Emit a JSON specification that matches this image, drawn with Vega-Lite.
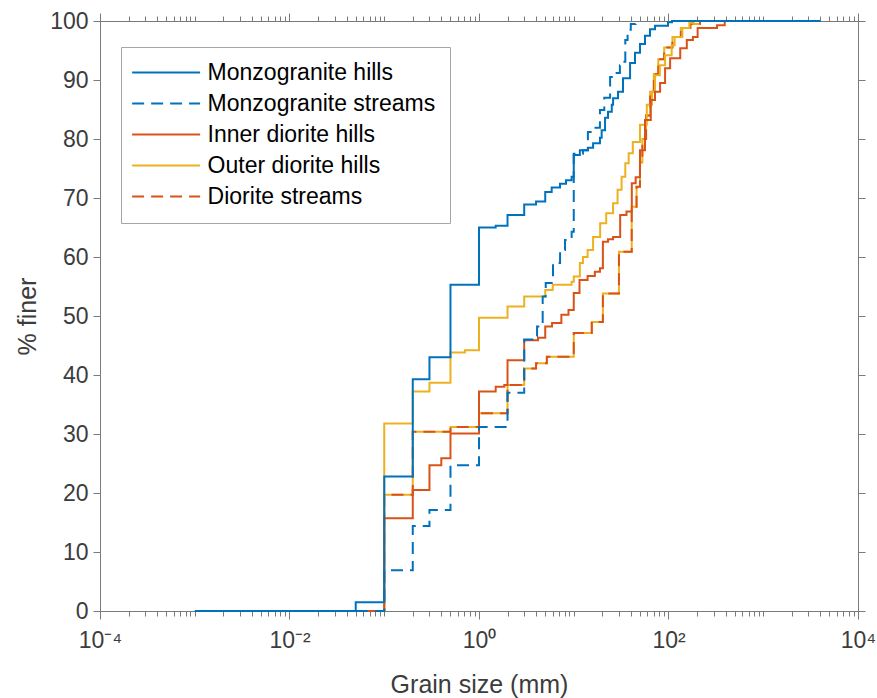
{
  "$schema": "https://vega.github.io/schema/vega-lite/v6.json",
  "width": 758,
  "height": 590,
  "autosize": {"type": "none"},
  "padding": {"left": 100, "top": 21, "right": 19, "bottom": 87},
  "background": "white",
  "config": {
    "view": {"stroke": "#7a7a7a", "strokeWidth": 1},
    "axis": {
      "grid": false,
      "labelFont": "Liberation Sans",
      "titleFont": "Liberation Sans",
      "labelFontSize": 23,
      "titleFontSize": 25,
      "titleFontWeight": "normal",
      "labelColor": "#3c3c3c",
      "titleColor": "#3c3c3c",
      "domainColor": "#7a7a7a",
      "tickColor": "#7a7a7a",
      "domainWidth": 1,
      "tickWidth": 1,
      "labelFlush": false,
      "labelOverlap": false,
      "labelBound": false
    },
    "legend": {
      "orient": "none",
      "legendX": 21,
      "legendY": 26,
      "labelFont": "Liberation Sans",
      "labelFontSize": 23,
      "labelColor": "#000000",
      "labelLimit": 400,
      "labelOffset": 49.6,
      "symbolType": "M-3.6,0H13.4",
      "symbolSize": 64,
      "symbolStrokeWidth": 2,
      "padding": 14,
      "rowPadding": 7,
      "strokeColor": "#a6a6a6",
      "fillColor": "white",
      "cornerRadius": 0
    }
  },
  "datasets": {
    "cdf": [
      {"series": "Diorite streams", "size": 0.05, "finer": 0},
      {"series": "Diorite streams", "size": 0.1, "finer": 19.7},
      {"series": "Diorite streams", "size": 0.2, "finer": 30.4},
      {"series": "Diorite streams", "size": 0.5, "finer": 31.2},
      {"series": "Diorite streams", "size": 1, "finer": 33.5},
      {"series": "Diorite streams", "size": 2, "finer": 38.3},
      {"series": "Diorite streams", "size": 3, "finer": 41.1},
      {"series": "Diorite streams", "size": 4, "finer": 42.0},
      {"series": "Diorite streams", "size": 5.2, "finer": 43.1},
      {"series": "Diorite streams", "size": 10, "finer": 47.1},
      {"series": "Diorite streams", "size": 15.5, "finer": 49.0},
      {"series": "Diorite streams", "size": 20.3, "finer": 53.8},
      {"series": "Diorite streams", "size": 30, "finer": 60.9},
      {"series": "Diorite streams", "size": 40.9, "finer": 68.5},
      {"series": "Diorite streams", "size": 46, "finer": 71.9},
      {"series": "Diorite streams", "size": 50, "finer": 76.0},
      {"series": "Diorite streams", "size": 53, "finer": 80.0},
      {"series": "Diorite streams", "size": 58, "finer": 84.0},
      {"series": "Diorite streams", "size": 64, "finer": 88.0},
      {"series": "Diorite streams", "size": 70, "finer": 91.0},
      {"series": "Diorite streams", "size": 78, "finer": 93.5},
      {"series": "Diorite streams", "size": 90, "finer": 95.5},
      {"series": "Diorite streams", "size": 110, "finer": 97.3},
      {"series": "Diorite streams", "size": 135, "finer": 98.8},
      {"series": "Diorite streams", "size": 170, "finer": 99.5},
      {"series": "Diorite streams", "size": 215, "finer": 100},

      {"series": "Outer diorite hills", "size": 0.05, "finer": 0},
      {"series": "Outer diorite hills", "size": 0.1, "finer": 31.8},
      {"series": "Outer diorite hills", "size": 0.2, "finer": 37.2},
      {"series": "Outer diorite hills", "size": 0.3, "finer": 38.7},
      {"series": "Outer diorite hills", "size": 0.5, "finer": 43.8},
      {"series": "Outer diorite hills", "size": 0.71, "finer": 44.2},
      {"series": "Outer diorite hills", "size": 1, "finer": 49.7},
      {"series": "Outer diorite hills", "size": 2, "finer": 51.6},
      {"series": "Outer diorite hills", "size": 3, "finer": 53.3},
      {"series": "Outer diorite hills", "size": 5, "finer": 54.4},
      {"series": "Outer diorite hills", "size": 6, "finer": 55.3},
      {"series": "Outer diorite hills", "size": 9.5, "finer": 55.8},
      {"series": "Outer diorite hills", "size": 10, "finer": 56.7},
      {"series": "Outer diorite hills", "size": 11.6, "finer": 59.0},
      {"series": "Outer diorite hills", "size": 12.5, "finer": 60.0},
      {"series": "Outer diorite hills", "size": 14, "finer": 61.2},
      {"series": "Outer diorite hills", "size": 16, "finer": 63.4},
      {"series": "Outer diorite hills", "size": 19, "finer": 65.7},
      {"series": "Outer diorite hills", "size": 22, "finer": 67.4},
      {"series": "Outer diorite hills", "size": 26, "finer": 69.1},
      {"series": "Outer diorite hills", "size": 29, "finer": 71.4},
      {"series": "Outer diorite hills", "size": 32, "finer": 73.6},
      {"series": "Outer diorite hills", "size": 35, "finer": 75.9},
      {"series": "Outer diorite hills", "size": 38, "finer": 77.6},
      {"series": "Outer diorite hills", "size": 42, "finer": 79.5},
      {"series": "Outer diorite hills", "size": 50, "finer": 82.4},
      {"series": "Outer diorite hills", "size": 59, "finer": 85.8},
      {"series": "Outer diorite hills", "size": 67, "finer": 88.0},
      {"series": "Outer diorite hills", "size": 72, "finer": 90.8},
      {"series": "Outer diorite hills", "size": 81, "finer": 92.5},
      {"series": "Outer diorite hills", "size": 92, "finer": 94.2},
      {"series": "Outer diorite hills", "size": 108, "finer": 95.9},
      {"series": "Outer diorite hills", "size": 116, "finer": 97.3},
      {"series": "Outer diorite hills", "size": 140, "finer": 98.8},
      {"series": "Outer diorite hills", "size": 166, "finer": 99.7},
      {"series": "Outer diorite hills", "size": 185, "finer": 100},

      {"series": "Inner diorite hills", "size": 0.05, "finer": 0},
      {"series": "Inner diorite hills", "size": 0.1, "finer": 15.7},
      {"series": "Inner diorite hills", "size": 0.2, "finer": 20.5},
      {"series": "Inner diorite hills", "size": 0.3, "finer": 24.7},
      {"series": "Inner diorite hills", "size": 0.4, "finer": 25.9},
      {"series": "Inner diorite hills", "size": 0.5, "finer": 30.1},
      {"series": "Inner diorite hills", "size": 1, "finer": 37.2},
      {"series": "Inner diorite hills", "size": 1.5, "finer": 38.0},
      {"series": "Inner diorite hills", "size": 1.85, "finer": 38.3},
      {"series": "Inner diorite hills", "size": 2, "finer": 42.5},
      {"series": "Inner diorite hills", "size": 3, "finer": 45.9},
      {"series": "Inner diorite hills", "size": 4.2, "finer": 46.3},
      {"series": "Inner diorite hills", "size": 5, "finer": 48.2},
      {"series": "Inner diorite hills", "size": 5.9, "finer": 48.8},
      {"series": "Inner diorite hills", "size": 7.4, "finer": 50.2},
      {"series": "Inner diorite hills", "size": 8.8, "finer": 51.0},
      {"series": "Inner diorite hills", "size": 10, "finer": 53.9},
      {"series": "Inner diorite hills", "size": 11.5, "finer": 56.1},
      {"series": "Inner diorite hills", "size": 14, "finer": 56.8},
      {"series": "Inner diorite hills", "size": 16.7, "finer": 57.5},
      {"series": "Inner diorite hills", "size": 18.9, "finer": 58.1},
      {"series": "Inner diorite hills", "size": 20.3, "finer": 62.6},
      {"series": "Inner diorite hills", "size": 23, "finer": 63.0},
      {"series": "Inner diorite hills", "size": 26, "finer": 63.4},
      {"series": "Inner diorite hills", "size": 30.9, "finer": 67.1},
      {"series": "Inner diorite hills", "size": 36, "finer": 67.7},
      {"series": "Inner diorite hills", "size": 41, "finer": 72.5},
      {"series": "Inner diorite hills", "size": 45, "finer": 73.5},
      {"series": "Inner diorite hills", "size": 50, "finer": 78.1},
      {"series": "Inner diorite hills", "size": 56.5, "finer": 83.2},
      {"series": "Inner diorite hills", "size": 65, "finer": 86.6},
      {"series": "Inner diorite hills", "size": 72, "finer": 88.0},
      {"series": "Inner diorite hills", "size": 81.5, "finer": 89.5},
      {"series": "Inner diorite hills", "size": 92, "finer": 92.0},
      {"series": "Inner diorite hills", "size": 104, "finer": 93.7},
      {"series": "Inner diorite hills", "size": 133, "finer": 95.4},
      {"series": "Inner diorite hills", "size": 156, "finer": 96.8},
      {"series": "Inner diorite hills", "size": 181, "finer": 97.3},
      {"series": "Inner diorite hills", "size": 203, "finer": 98.8},
      {"series": "Inner diorite hills", "size": 325, "finer": 99.3},
      {"series": "Inner diorite hills", "size": 392, "finer": 100},

      {"series": "Monzogranite streams", "size": 0.05, "finer": 0},
      {"series": "Monzogranite streams", "size": 0.1, "finer": 6.9},
      {"series": "Monzogranite streams", "size": 0.2, "finer": 14.4},
      {"series": "Monzogranite streams", "size": 0.3, "finer": 17.1},
      {"series": "Monzogranite streams", "size": 0.5, "finer": 24.7},
      {"series": "Monzogranite streams", "size": 1, "finer": 31.2},
      {"series": "Monzogranite streams", "size": 2, "finer": 37.0},
      {"series": "Monzogranite streams", "size": 3, "finer": 46.0},
      {"series": "Monzogranite streams", "size": 3.9, "finer": 46.6},
      {"series": "Monzogranite streams", "size": 4.1, "finer": 48.2},
      {"series": "Monzogranite streams", "size": 4.7, "finer": 53.3},
      {"series": "Monzogranite streams", "size": 5.06, "finer": 55.6},
      {"series": "Monzogranite streams", "size": 5.85, "finer": 56.7},
      {"series": "Monzogranite streams", "size": 6.04, "finer": 59.0},
      {"series": "Monzogranite streams", "size": 7.17, "finer": 61.2},
      {"series": "Monzogranite streams", "size": 8.09, "finer": 62.9},
      {"series": "Monzogranite streams", "size": 9.5, "finer": 64.3},
      {"series": "Monzogranite streams", "size": 10, "finer": 77.5},
      {"series": "Monzogranite streams", "size": 12.5, "finer": 78.1},
      {"series": "Monzogranite streams", "size": 14.1, "finer": 81.2},
      {"series": "Monzogranite streams", "size": 15.6, "finer": 81.9},
      {"series": "Monzogranite streams", "size": 18.9, "finer": 84.9},
      {"series": "Monzogranite streams", "size": 21, "finer": 87.0},
      {"series": "Monzogranite streams", "size": 24.2, "finer": 90.5},
      {"series": "Monzogranite streams", "size": 27.2, "finer": 91.2},
      {"series": "Monzogranite streams", "size": 30.7, "finer": 92.5},
      {"series": "Monzogranite streams", "size": 33, "finer": 93.1},
      {"series": "Monzogranite streams", "size": 35, "finer": 96.8},
      {"series": "Monzogranite streams", "size": 37, "finer": 98.5},
      {"series": "Monzogranite streams", "size": 40, "finer": 99.5},
      {"series": "Monzogranite streams", "size": 45, "finer": 100},

      {"series": "Monzogranite hills", "size": 0.001, "finer": 0},
      {"series": "Monzogranite hills", "size": 0.05, "finer": 1.5},
      {"series": "Monzogranite hills", "size": 0.1, "finer": 22.8},
      {"series": "Monzogranite hills", "size": 0.2, "finer": 39.3},
      {"series": "Monzogranite hills", "size": 0.3, "finer": 43.0},
      {"series": "Monzogranite hills", "size": 0.5, "finer": 55.3},
      {"series": "Monzogranite hills", "size": 1, "finer": 65.0},
      {"series": "Monzogranite hills", "size": 1.5, "finer": 65.3},
      {"series": "Monzogranite hills", "size": 2, "finer": 67.1},
      {"series": "Monzogranite hills", "size": 3, "finer": 68.9},
      {"series": "Monzogranite hills", "size": 4, "finer": 69.4},
      {"series": "Monzogranite hills", "size": 5, "finer": 71.0},
      {"series": "Monzogranite hills", "size": 5.85, "finer": 71.8},
      {"series": "Monzogranite hills", "size": 7.16, "finer": 72.4},
      {"series": "Monzogranite hills", "size": 8.28, "finer": 73.0},
      {"series": "Monzogranite hills", "size": 9.5, "finer": 73.6},
      {"series": "Monzogranite hills", "size": 10, "finer": 77.3},
      {"series": "Monzogranite hills", "size": 11.6, "finer": 78.1},
      {"series": "Monzogranite hills", "size": 14.1, "finer": 78.5},
      {"series": "Monzogranite hills", "size": 16, "finer": 79.3},
      {"series": "Monzogranite hills", "size": 18.9, "finer": 80.2},
      {"series": "Monzogranite hills", "size": 19.7, "finer": 81.5},
      {"series": "Monzogranite hills", "size": 21.4, "finer": 83.6},
      {"series": "Monzogranite hills", "size": 23, "finer": 84.6},
      {"series": "Monzogranite hills", "size": 25.2, "finer": 85.8},
      {"series": "Monzogranite hills", "size": 26, "finer": 86.9},
      {"series": "Monzogranite hills", "size": 29.3, "finer": 88.0},
      {"series": "Monzogranite hills", "size": 33.1, "finer": 90.3},
      {"series": "Monzogranite hills", "size": 39.3, "finer": 92.9},
      {"series": "Monzogranite hills", "size": 44.3, "finer": 94.6},
      {"series": "Monzogranite hills", "size": 50, "finer": 96.1},
      {"series": "Monzogranite hills", "size": 56.5, "finer": 97.5},
      {"series": "Monzogranite hills", "size": 63.8, "finer": 98.6},
      {"series": "Monzogranite hills", "size": 72.1, "finer": 99.2},
      {"series": "Monzogranite hills", "size": 98.8, "finer": 99.8},
      {"series": "Monzogranite hills", "size": 109, "finer": 100},
      {"series": "Monzogranite hills", "size": 4000, "finer": 100}
    ]
  },
  "data": {"name": "cdf"},
  "resolve": {"axis": {"x": "independent", "y": "independent"}},
  "layer": [
    {
      "transform": [{"filter": "datum.series === 'Diorite streams'"}],
      "mark": {"type": "line", "interpolate": "step-after", "strokeWidth": 2, "color": "#EDB120"},
      "encoding": {
        "x": {
          "field": "size", "type": "quantitative",
          "scale": {"type": "log", "domain": [0.0001, 10000], "nice": false},
          "axis": {
            "orient": "bottom",
            "title": "Grain size (mm)",
            "values": [0.0001, 0.01, 1, 100, 10000],
            "tickSize": 8,
            "labelPadding": 10,
            "titlePadding": 20,
            "labelBaseline": "top",
            "labelExpr": "datum.value == 0.0001 ? '10⁻⁴' : datum.value == 0.01 ? '10⁻²' : datum.value == 1 ? '10⁰' : datum.value == 100 ? '10²' : '10⁴'"
          }
        },
        "y": {
          "field": "finer", "type": "quantitative",
          "scale": {"domain": [0, 100], "nice": false},
          "axis": {
            "orient": "left",
            "title": "% finer",
            "values": [0, 10, 20, 30, 40, 50, 60, 70, 80, 90, 100],
            "tickSize": 7,
            "labelPadding": 5,
            "titlePadding": 9
          }
        }
      }
    },
    {
      "mark": {"type": "line", "interpolate": "step-after", "strokeWidth": 2},
      "encoding": {
        "x": {
          "field": "size", "type": "quantitative",
          "scale": {"type": "log", "domain": [0.0001, 10000], "nice": false},
          "axis": {
            "orient": "bottom", "title": null, "labels": false, "tickSize": 5,
            "values": [0.0001,0.0002,0.0003,0.0004,0.0005,0.0006,0.0007,0.0008,0.0009,
                       0.001,0.002,0.003,0.004,0.005,0.006,0.007,0.008,0.009,
                       0.01,0.02,0.03,0.04,0.05,0.06,0.07,0.08,0.09,
                       0.1,0.2,0.3,0.4,0.5,0.6,0.7,0.8,0.9,
                       1,2,3,4,5,6,7,8,9,
                       10,20,30,40,50,60,70,80,90,
                       100,200,300,400,500,600,700,800,900,
                       1000,2000,3000,4000,5000,6000,7000,8000,9000,10000]
          }
        },
        "y": {
          "field": "finer", "type": "quantitative",
          "scale": {"domain": [0, 100], "nice": false},
          "axis": {
            "orient": "right", "title": null, "labels": false, "tickSize": 7,
            "values": [0, 10, 20, 30, 40, 50, 60, 70, 80, 90, 100]
          }
        },
        "color": {
          "field": "series", "type": "nominal",
          "scale": {
            "domain": ["Monzogranite hills", "Monzogranite streams", "Inner diorite hills", "Outer diorite hills", "Diorite streams"],
            "range": ["#0072BD", "#0072BD", "#D95319", "#EDB120", "#D95319"]
          },
          "legend": {"title": null}
        },
        "strokeDash": {
          "field": "series", "type": "nominal",
          "scale": {
            "domain": ["Monzogranite hills", "Monzogranite streams", "Inner diorite hills", "Outer diorite hills", "Diorite streams"],
            "range": [[1, 0], [12, 7], [1, 0], [1, 0], [12, 7]]
          },
          "legend": {"title": null}
        }
      }
    },
    {
      "mark": {"type": "line", "opacity": 0},
      "encoding": {
        "x": {
          "field": "size", "type": "quantitative",
          "scale": {"type": "log", "domain": [0.0001, 10000], "nice": false},
          "axis": {
            "orient": "top", "title": null, "labels": false, "tickSize": 8,
            "values": [0.0001, 0.01, 1, 100, 10000]
          }
        },
        "y": {
          "field": "finer", "type": "quantitative",
          "scale": {"domain": [0, 100], "nice": false},
          "axis": null
        }
      }
    },
    {
      "mark": {"type": "line", "opacity": 0},
      "encoding": {
        "x": {
          "field": "size", "type": "quantitative",
          "scale": {"type": "log", "domain": [0.0001, 10000], "nice": false},
          "axis": {
            "orient": "top", "title": null, "labels": false, "tickSize": 5,
            "values": [0.0001,0.0002,0.0003,0.0004,0.0005,0.0006,0.0007,0.0008,0.0009,
                       0.001,0.002,0.003,0.004,0.005,0.006,0.007,0.008,0.009,
                       0.01,0.02,0.03,0.04,0.05,0.06,0.07,0.08,0.09,
                       0.1,0.2,0.3,0.4,0.5,0.6,0.7,0.8,0.9,
                       1,2,3,4,5,6,7,8,9,
                       10,20,30,40,50,60,70,80,90,
                       100,200,300,400,500,600,700,800,900,
                       1000,2000,3000,4000,5000,6000,7000,8000,9000,10000]
          }
        },
        "y": {
          "field": "finer", "type": "quantitative",
          "scale": {"domain": [0, 100], "nice": false},
          "axis": null
        }
      }
    }
  ]
}
